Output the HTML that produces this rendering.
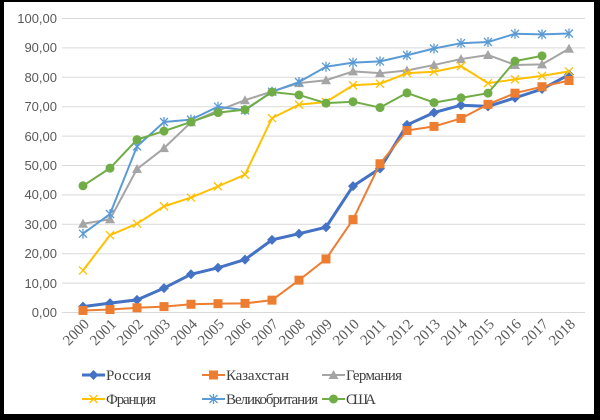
<!DOCTYPE html>
<html><head><meta charset="utf-8"><style>
html,body{margin:0;padding:0;background:#000;}
svg{display:block}
</style></head><body>
<svg width="600" height="420" xmlns="http://www.w3.org/2000/svg">
<rect x="0" y="0" width="600" height="420" fill="#000"/>
<rect x="4" y="2" width="590" height="412" fill="#fff"/>
<g stroke="#d9d9d9" stroke-width="1">
<line x1="62" x2="585" y1="18.5" y2="18.5"/><line x1="62" x2="585" y1="47.9" y2="47.9"/>
<line x1="62" x2="585" y1="77.3" y2="77.3"/><line x1="62" x2="585" y1="106.7" y2="106.7"/>
<line x1="62" x2="585" y1="136.1" y2="136.1"/><line x1="62" x2="585" y1="165.5" y2="165.5"/>
<line x1="62" x2="585" y1="194.9" y2="194.9"/><line x1="62" x2="585" y1="224.3" y2="224.3"/>
<line x1="62" x2="585" y1="253.7" y2="253.7"/><line x1="62" x2="585" y1="283.1" y2="283.1"/>
<line x1="62" x2="585" y1="312.5" y2="312.5"/>
</g>
<g font-family="Liberation Sans, sans-serif" font-size="13" fill="#595959" text-anchor="end">
<text x="57" y="23">100,00</text><text x="57" y="52">90,00</text><text x="57" y="82">80,00</text>
<text x="57" y="111">70,00</text><text x="57" y="141">60,00</text><text x="57" y="170">50,00</text>
<text x="57" y="199">40,00</text><text x="57" y="229">30,00</text><text x="57" y="258">20,00</text>
<text x="57" y="288">10,00</text><text x="57" y="317">0,00</text>
</g>
<g font-family="Liberation Serif, serif" font-size="15" fill="#595959" text-anchor="end" id="xl"></g>
<g id="series"></g>
<g font-family="Liberation Serif, serif" font-size="15" fill="#404040">
<text x="106" y="380" textLength="45">Россия</text><text x="226" y="380" textLength="63">Казахстан</text><text x="346" y="380" textLength="56">Германия</text>
<text x="106" y="404" textLength="50">Франция</text><text x="226" y="404" textLength="92">Великобритания</text><text x="346" y="404" textLength="30">США</text>
</g>
<g id="leg"></g>
<script>
var ns="http://www.w3.org/2000/svg";
function X(i){return 83+i*27;} function Y(v){return 312.5-2.94*v;}
var xl=document.getElementById('xl');
for(var i=0;i<19;i++){var t=document.createElementNS(ns,'text');var x=X(i)+7,y=325;t.setAttribute('x',x);t.setAttribute('y',y);t.setAttribute('transform','rotate(-45 '+x+' '+y+')');t.textContent=2000+i;xl.appendChild(t);}
var S=[
{c:'#4472c4',m:'d',w:3,d:[2,3.2,4.3,8.3,13,15.2,18,24.7,26.8,29,43,49,63.8,68,70.5,70.1,73,76,80.9]},
{c:'#ed7d31',m:'s',w:2,d:[0.7,1,1.6,2,2.8,3,3.1,4.2,11,18.2,31.6,50.6,61.9,63.3,66,70.8,74.6,76.8,78.9]},
{c:'#a5a5a5',m:'t',w:2,d:[30.2,31.7,48.8,55.9,64.7,68.7,72.2,75.2,78,79,82,81.4,82.3,84.2,86.2,87.6,84.2,84.4,89.7]},
{c:'#ffc000',m:'x',w:2,d:[14.3,26.3,30.2,36.1,39.1,42.9,46.9,66.1,70.7,71.6,77.3,77.8,81.4,81.9,83.8,78,79.3,80.5,82]},
{c:'#5b9bd5',m:'a',w:2,d:[26.8,33.5,56.5,64.8,65.6,70,68.8,75.1,78.4,83.6,85,85.4,87.5,89.8,91.6,92,94.8,94.6,94.9]},
{c:'#70ad47',m:'o',w:2,d:[43.1,49.1,58.8,61.7,64.8,68,69,75,74,71.2,71.7,69.7,74.7,71.4,73,74.6,85.5,87.3]}];
function marker(g,m,x,y,c){var e;
 if(m=='d'){e=document.createElementNS(ns,'polygon');e.setAttribute('points',(x)+','+(y-5)+' '+(x+5)+','+y+' '+x+','+(y+5)+' '+(x-5)+','+y);e.setAttribute('fill',c);}
 else if(m=='s'){e=document.createElementNS(ns,'rect');e.setAttribute('x',x-4.5);e.setAttribute('y',y-4.5);e.setAttribute('width',9);e.setAttribute('height',9);e.setAttribute('fill',c);}
 else if(m=='t'){e=document.createElementNS(ns,'polygon');e.setAttribute('points',x+','+(y-5)+' '+(x+5)+','+(y+4)+' '+(x-5)+','+(y+4));e.setAttribute('fill',c);}
 else if(m=='o'){e=document.createElementNS(ns,'circle');e.setAttribute('cx',x);e.setAttribute('cy',y);e.setAttribute('r',4.5);e.setAttribute('fill',c);}
 else {e=document.createElementNS(ns,'path');var d='M'+(x-4)+' '+(y-4)+'L'+(x+4)+' '+(y+4)+'M'+(x-4)+' '+(y+4)+'L'+(x+4)+' '+(y-4);if(m=='a')d+='M'+x+' '+(y-5)+'L'+x+' '+(y+5);e.setAttribute('d',d);e.setAttribute('stroke',c);e.setAttribute('stroke-width',1.3);e.setAttribute('fill','none');}
 g.appendChild(e);}
var g=document.getElementById('series');
S.forEach(function(s){var p=s.d.map(function(v,i){return X(i)+','+Y(v);}).join(' ');
 var l=document.createElementNS(ns,'polyline');l.setAttribute('points',p);l.setAttribute('fill','none');l.setAttribute('stroke',s.c);l.setAttribute('stroke-width',s.w);l.setAttribute('stroke-linejoin','round');g.appendChild(l);
 s.d.forEach(function(v,i){marker(g,s.m,X(i),Y(v),s.c);});});
var lg=document.getElementById('leg');
var pos=[[82,375],[202,375],[322,375],[82,399],[202,399],[322,399]];
S.forEach(function(s,k){var x=pos[k][0],y=pos[k][1];var l=document.createElementNS(ns,'line');l.setAttribute('x1',x);l.setAttribute('x2',x+23);l.setAttribute('y1',y);l.setAttribute('y2',y);l.setAttribute('stroke',s.c);l.setAttribute('stroke-width',s.w);lg.appendChild(l);marker(lg,s.m,x+11.5,y,s.c);});
</script>
</svg>
</body></html>
